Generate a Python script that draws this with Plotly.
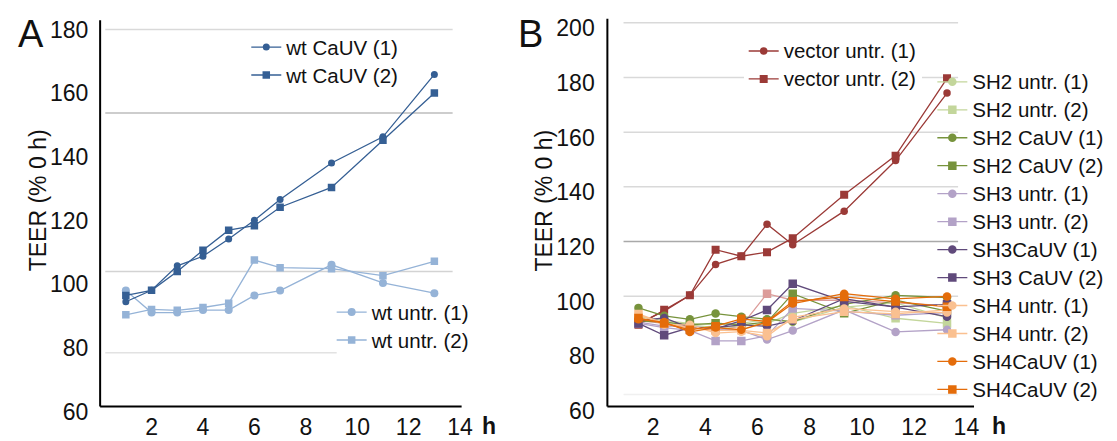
import plotly.graph_objects as go

# ---------------- data ----------------
hours = [1, 2, 3, 4, 5, 6, 7, 9, 11, 13]

# Panel A (TEER % of 0 h)
wt_cauv_1 = [94.5, 98.1, 105.8, 108.8, 114.2, 120.1, 126.6, 138.1, 146.3, 165.9]
wt_cauv_2 = [96.5, 98.1, 104.0, 110.7, 117.0, 118.4, 124.2, 130.4, 145.2, 160.1]
wt_untr_1 = [98.0, 91.1, 91.1, 91.9, 91.9, 96.5, 98.0, 106.1, 100.4, 97.2]
wt_untr_2 = [90.4, 92.1, 91.8, 92.7, 94.0, 107.6, 105.2, 104.9, 102.7, 107.2]

# Panel B
vector_untr_1 = [92.0, 96.5, 102.3, 113.6, 116.6, 128.3, 120.8, 133.1, 151.6, 176.3]
vector_untr_2 = [91.5, 97.0, 102.3, 119.0, 116.6, 118.1, 123.2, 139.1, 153.4, 181.7]
sh2_untr_1 = [94.5, 93.0, 92.0, 91.5, 92.0, 93.5, 92.5, 98.0, 99.5, 94.0]
sh2_untr_2 = [93.5, 92.5, 91.5, 90.5, 91.0, 92.0, 95.7, 98.5, 93.9, 92.0]
sh2_cauv_1 = [97.7, 94.8, 93.5, 95.6, 94.5, 93.5, 92.7, 99.0, 102.3, 101.5]
sh2_cauv_2 = [93.0, 92.5, 91.5, 92.1, 91.5, 92.5, 102.9, 95.7, 100.5, 96.5]
sh3_untr_1 = [92.5, 91.0, 91.0, 90.0, 89.5, 86.1, 89.4, 97.0, 88.9, 89.7]
sh3_untr_2 = [92.0, 90.5, 89.5, 85.6, 85.6, 87.5, 97.5, 96.5, 95.0, 96.0]
sh3_cauv_1 = [93.0, 94.0, 90.5, 90.5, 91.5, 91.0, 93.0, 101.1, 98.0, 94.5]
sh3_cauv_2 = [92.0, 87.7, 90.5, 90.0, 93.0, 96.9, 106.5, 100.1, 98.1, 99.0]
sh4_untr_1 = [95.3, 91.5, 91.5, 88.5, 89.0, 87.3, 94.2, 97.5, 96.3, 96.0]
sh4_untr_2 = [95.5, 92.0, 90.5, 89.5, 89.5, 88.5, 93.5, 96.3, 95.5, 97.0]
sh4_cauv_1 = [93.5, 92.5, 88.9, 90.5, 89.7, 92.5, 99.3, 102.9, 101.0, 101.9]
sh4_cauv_2 = [94.0, 92.0, 89.7, 91.0, 93.7, 92.7, 100.1, 101.7, 100.0, 98.1]
unlabeled_pink = [93.0, 92.0, 90.5, 89.5, 91.0, 102.9, 100.5, 100.5, 99.5, 98.5]

x_ticks = [2, 4, 6, 8, 10, 12, 14]
y_ticks_a = [60, 80, 100, 120, 140, 160, 180]
y_ticks_b = [60, 80, 100, 120, 140, 160, 180, 200]

# gridlines as they appear in the figure (offset from the tick labels)
grid_a = [180, 153.8, 104]
grid_a_short = 78.5
grid_b = [202, 182, 162, 142, 122, 102, 66]

# ---------------- styling ----------------
FONT = "Liberation Sans, Arial, Helvetica, sans-serif"
DARK_BLUE = "#355f94"
LIGHT_BLUE = "#95b3d7"
RED = "#9b3a37"
C_SH2U = "#c3d69b"
C_SH2C = "#77933c"
C_SH3U = "#b3a2c7"
C_SH3C = "#604a7b"
C_SH4U = "#fac090"
C_SH4C = "#e46c0a"
C_PINK = "#dc9c9a"
LEG_SIZE = 19.2      # controls the row pitch of the legends
LEG_TEXT_PX = 20.5   # visible size of the legend labels

fig = go.Figure()


def label(name):
    return f'<span style="font-size:{LEG_TEXT_PX}px">{name}</span>'


def add(x, y, name, color, symbol, size, xa, ya, legend, showlegend=True):
    fig.add_trace(go.Scatter(
        x=x, y=y, name=label(name) if name else name, mode="lines+markers",
        line=dict(color=color, width=1.3),
        marker=dict(color=color, symbol=symbol, size=size),
        xaxis=xa, yaxis=ya, legend=legend, showlegend=showlegend))


# Panel A
add(hours, wt_untr_1, "wt untr. (1)", LIGHT_BLUE, "circle", 8, "x", "y", "legend2")
add(hours, wt_untr_2, "wt untr. (2)", LIGHT_BLUE, "square", 7.5, "x", "y", "legend2")
add(hours, wt_cauv_1, "wt CaUV (1)", DARK_BLUE, "circle", 7, "x", "y", "legend")
add(hours, wt_cauv_2, "wt CaUV (2)", DARK_BLUE, "square", 7.5, "x", "y", "legend")

# Panel B
add(hours, unlabeled_pink, "", C_PINK, "square", 8.5, "x2", "y2", "legend4", showlegend=False)
add(hours, vector_untr_1, "vector untr. (1)", RED, "circle", 7.5, "x2", "y2", "legend3")
add(hours, vector_untr_2, "vector untr. (2)", RED, "square", 8, "x2", "y2", "legend3")
b_series = [
    (sh2_untr_1, "SH2 untr. (1)", C_SH2U, "circle"),
    (sh2_untr_2, "SH2 untr. (2)", C_SH2U, "square"),
    (sh2_cauv_1, "SH2 CaUV (1)", C_SH2C, "circle"),
    (sh2_cauv_2, "SH2 CaUV (2)", C_SH2C, "square"),
    (sh3_untr_1, "SH3 untr. (1)", C_SH3U, "circle"),
    (sh3_untr_2, "SH3 untr. (2)", C_SH3U, "square"),
    (sh3_cauv_1, "SH3CaUV (1)", C_SH3C, "circle"),
    (sh3_cauv_2, "SH3 CaUV (2)", C_SH3C, "square"),
    (sh4_untr_1, "SH4 untr. (1)", C_SH4U, "circle"),
    (sh4_untr_2, "SH4 untr. (2)", C_SH4U, "square"),
    (sh4_cauv_1, "SH4CaUV (1)", C_SH4C, "circle"),
    (sh4_cauv_2, "SH4CaUV (2)", C_SH4C, "square"),
]
for vals, name, col, sym in b_series:
    add(hours, vals, name, col, sym, 8.5, "x2", "y2", "legend4")

# ---------------- layout geometry ----------------
W, H = 1117, 441
# Panel A: data hour 0 at y-axis, 25.9 px per hour; 3.25 px per TEER unit
a_x_range = [-0.185, 14.18]
a_y_range = [58.77, 184.31]
a_axis_floor = 61.6
a_axis_end = 14.06
a_y_top = 182.9
# Panel B: hour axis offset against its labels in the original figure
b_x_range = [-0.4286, 14.166]
b_y_range = [58.68, 204.55]
b_axis_floor = 61.65
b_axis_start = -0.2085
b_axis_end = 14.05
b_y_top = 203.5
b_label_pos = [(k * 26.3 - 12.0) / 25.9 for k in x_ticks]

tickfont = dict(family=FONT, size=23, color="#111111")
common_x = dict(showgrid=False, zeroline=False, showline=False, ticks="",
                tickfont=tickfont, ticklabelstandoff=4, anchor="free",
                position=1 - 407 / H)
common_y = dict(showgrid=False, zeroline=False, showline=False, ticks="",
                tickfont=tickfont, ticklabelstandoff=6)


def leg(x, top, bg="rgba(0,0,0,0)"):
    return dict(x=x / W, y=1 - top / H, xanchor="left", yanchor="top",
                bgcolor=bg, font=dict(family=FONT, size=LEG_SIZE, color="#111111"),
                itemwidth=30, traceorder="normal")


fig.update_layout(
    width=W, height=H,
    margin=dict(l=0, r=0, t=0, b=0),
    paper_bgcolor="white", plot_bgcolor="white",
    font=dict(family=FONT, color="#111111"),
    xaxis=dict(domain=[88 / W, 460 / W], range=a_x_range, tickvals=x_ticks,
               ticktext=[str(t) for t in x_ticks], **common_x),
    yaxis=dict(domain=[1 - 416 / H, 1 - 8 / H], range=a_y_range, tickvals=y_ticks_a,
               anchor="x", **common_y),
    xaxis2=dict(domain=[598 / W, 976 / W], range=b_x_range, tickvals=b_label_pos,
                ticktext=[str(t) for t in x_ticks], **common_x),
    yaxis2=dict(domain=[1 - 415 / H, 1 - 8 / H], range=b_y_range, tickvals=y_ticks_b,
                anchor="x2", **common_y),
    legend=leg(240, 20.5),
    legend2=leg(326, 291),
    legend3=leg(741, 24.5, "white"),
    legend4=leg(931, 56),
    showlegend=True,
)

shapes = []
# gridlines panel A
grid_a_colors = ["#d9d9d9", "#bdbdbd", "#d3d3d3"]
for g, c in zip(grid_a, grid_a_colors):
    shapes.append(dict(type="line", xref="x", yref="y", x0=0.2, x1=13.71, y0=g, y1=g,
                       line=dict(color=c, width=1.5), layer="below"))
shapes.append(dict(type="line", xref="x", yref="y", x0=0.2, x1=9.2,
                   y0=grid_a_short, y1=grid_a_short,
                   line=dict(color="#e2e2e2", width=1.5), layer="below"))
# gridlines panel B
for g in grid_b:
    c = "#a9a9a9" if g == 122 else ("#f0f0f0" if g == 66 else "#d9d9d9")
    shapes.append(dict(type="line", xref="x2", yref="y2", x0=0.42, x1=13.43, y0=g, y1=g,
                       line=dict(color=c, width=1.5), layer="below"))
# axis lines
shapes += [
    dict(type="line", xref="x", yref="y", x0=0, x1=0, y0=a_axis_floor, y1=a_y_top,
         line=dict(color="black", width=2)),
    dict(type="line", xref="x", yref="y", x0=0, x1=a_axis_end, y0=a_axis_floor,
         y1=a_axis_floor, line=dict(color="black", width=2)),
    dict(type="line", xref="x2", yref="y2", x0=b_axis_start, x1=b_axis_start,
         y0=b_axis_floor, y1=b_y_top, line=dict(color="black", width=2)),
    dict(type="line", xref="x2", yref="y2", x0=b_axis_start, x1=b_axis_end,
         y0=b_axis_floor, y1=b_axis_floor, line=dict(color="black", width=2)),
]
fig.update_layout(shapes=shapes)

annotations = [
    dict(text="A", x=23.5 / W, y=1 - 26.5 / H, font=dict(size=38, family=FONT)),
    dict(text="B", x=526 / W, y=1 - 26.5 / H, font=dict(size=38, family=FONT)),
    dict(text="TEER (% 0 h)", x=31 / W, y=1 - 196.5 / H, textangle=-90,
         font=dict(size=23, family=FONT)),
    dict(text="TEER (% 0 h)", x=540 / W, y=1 - 196.5 / H, textangle=-90,
         font=dict(size=23, family=FONT)),
    dict(text="<b>h</b>", x=484 / W, y=1 - 427 / H, font=dict(size=23, family=FONT)),
    dict(text="<b>h</b>", x=998 / W, y=1 - 427 / H, font=dict(size=23, family=FONT)),
]
for a in annotations:
    a.update(xref="paper", yref="paper", showarrow=False, xanchor="center",
             yanchor="middle")
    a["font"]["color"] = "#111111"
fig.update_layout(annotations=annotations)

fig.write_html("out.html")
